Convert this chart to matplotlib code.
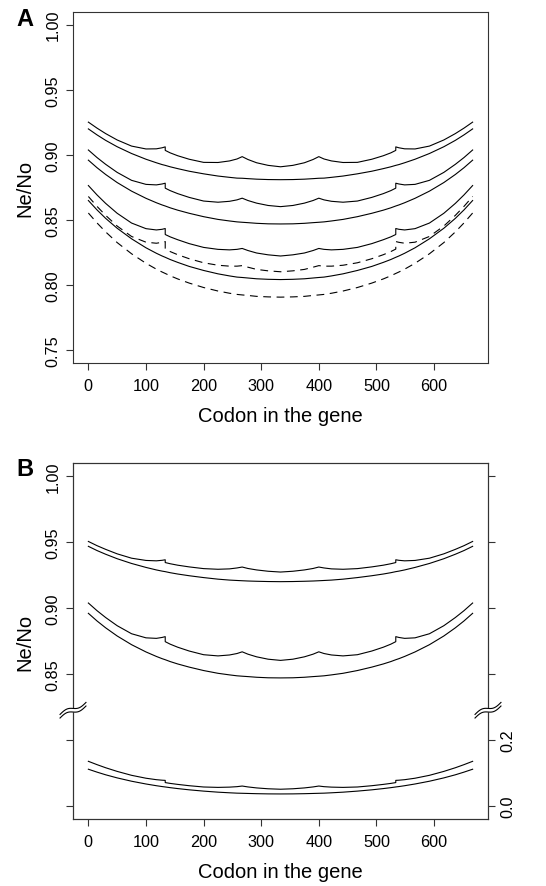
import numpy as np
import matplotlib
matplotlib.use("Agg")
import matplotlib.pyplot as plt

plt.rcParams['font.family'] = ['Liberation Sans', 'DejaVu Sans']

# ---------------- data ----------------
codon = [0, 15, 30, 50, 75, 100, 118, 128, 133.4, 133.4, 142, 155, 175, 200, 225, 245, 258, 267,
         277, 292, 312, 333.5, 355, 375, 390, 400, 409, 422, 442, 467, 492, 512, 525, 533.6,
         533.6, 539, 549, 567, 592, 617, 637, 652, 667]

# Panel A (Ne/No)
a_scal1 = [.9252, .9206, .9164, .9115, .9068, .9046, .9047, .9055, .9062, .9035, .9016, .8994, .8967, .8943, .8942, .8954, .8969, .8987, .8965, .8940, .8920, .8909,
           .8920, .8940, .8965, .8987, .8969, .8954, .8942, .8943, .8967, .8994, .9016, .9035, .9062, .9055, .9047, .9046, .9068, .9115, .9164, .9206, .9252]
a_smooth1 = [.920, .9154, .9112, .9063, .9011, .8967, .8940, .8926, .8920, .8920, .8909, .8895, .8875, .8855, .8838, .8828, .8822, .8821, .8818, .8814, .8811, .8810,
             .8811, .8814, .8818, .8821, .8822, .8828, .8838, .8855, .8875, .8895, .8909, .8920, .8920, .8926, .8940, .8967, .9011, .9063, .9112, .9154, .920]
a_scal2 = [.9038, .8980, .8928, .8866, .8805, .8774, .8770, .8777, .8783, .8745, .8726, .8703, .8674, .8646, .8637, .8644, .8655, .8668, .8650, .8630, .8612, .8603,
           .8612, .8630, .8650, .8668, .8655, .8644, .8637, .8646, .8674, .8703, .8726, .8745, .8783, .8777, .8770, .8774, .8805, .8866, .8928, .8980, .9038]
a_smooth2 = [.896, .8902, .8850, .8788, .8722, .8667, .8633, .8616, .8608, .8608, .8594, .8576, .8552, .8526, .8505, .8493, .8486, .8483, .8480, .8475, .8471, .8470,
             .8471, .8475, .8480, .8483, .8486, .8493, .8505, .8526, .8552, .8576, .8594, .8608, .8608, .8616, .8633, .8667, .8722, .8788, .8850, .8902, .896]
a_scal3 = [.8765, .8693, .8628, .8552, .8477, .8434, .8424, .8429, .8435, .8389, .8371, .8349, .8319, .8290, .8275, .8271, .8275, .8282, .8266, .8247, .8233, .8224,
           .8233, .8247, .8266, .8282, .8275, .8271, .8275, .8290, .8319, .8349, .8371, .8389, .8435, .8429, .8424, .8434, .8477, .8552, .8628, .8693, .8765]
a_smooth3 = [.865, .8578, .8513, .8437, .8356, .8287, .8245, .8224, .8214, .8214, .8197, .8175, .8144, .8113, .8087, .8071, .8062, .8059, .8055, .8049, .8045, .8043,
             .8045, .8049, .8055, .8059, .8062, .8071, .8087, .8113, .8144, .8175, .8197, .8214, .8214, .8224, .8245, .8287, .8356, .8437, .8513, .8578, .865]
a_dash_scal = [.8681, .8605, .8536, .8454, .8374, .8330, .8322, .8329, .8335, .8277, .8258, .8234, .8203, .8172, .8153, .8146, .8146, .8150, .8138, .8121, .8110, .8103,
               .8110, .8121, .8138, .8150, .8146, .8146, .8153, .8172, .8203, .8234, .8258, .8277, .8335, .8329, .8322, .8330, .8374, .8454, .8536, .8605, .8681]
a_dash_smooth = [.8554, .8478, .8409, .8327, .8241, .8168, .8123, .8101, .8090, .8090, .8072, .8048, .8016, .7982, .7955, .7938, .7929, .7925, .7921, .7914, .7910, .7908,
                 .7910, .7914, .7921, .7925, .7929, .7938, .7955, .7982, .8016, .8048, .8072, .8090, .8090, .8101, .8123, .8168, .8241, .8327, .8409, .8478, .8554]

# Panel B, upper part (left axis, Ne/No)
b_scal1 = [.9505, .9473, .9445, .9411, .9378, .9361, .9358, .9362, .9366, .9345, .9336, .9325, .9312, .9299, .9294, .9297, .9304, .9311, .9300, .9289, .9279, .9273,
           .9279, .9289, .9300, .9311, .9304, .9297, .9294, .9299, .9312, .9325, .9336, .9345, .9366, .9362, .9358, .9361, .9378, .9411, .9445, .9473, .9505]
b_smooth1 = [.9468, .9436, .9408, .9374, .9338, .9308, .9289, .9280, .9276, .9276, .9268, .9258, .9245, .9231, .9219, .9212, .9209, .9207, .9205, .9203, .9201, .9200,
             .9201, .9203, .9205, .9207, .9209, .9212, .9219, .9231, .9245, .9258, .9268, .9276, .9276, .9280, .9289, .9308, .9338, .9374, .9408, .9436, .9468]
b_scal2 = a_scal2
b_smooth2 = a_smooth2
# Panel B, lower part (right axis)
b_scal3 = [.1350, .1249, .1155, .1044, .0925, .0837, .0793, .0777, .0772, .0705, .0680, .0650, .0610, .0571, .0559, .0567, .0581, .0600, .0573, .0543, .0517, .0503,
           .0517, .0543, .0573, .0600, .0581, .0567, .0559, .0571, .0610, .0650, .0680, .0705, .0772, .0777, .0793, .0837, .0925, .1044, .1155, .1249, .1350]
b_smooth3 = [.111, .1022, .0941, .0847, .0746, .0662, .0610, .0584, .0572, .0572, .0551, .0523, .0485, .0446, .0414, .0395, .0384, .0380, .0375, .0368, .0362, .0360,
             .0362, .0368, .0375, .0380, .0384, .0395, .0414, .0446, .0485, .0523, .0551, .0572, .0572, .0584, .0610, .0662, .0746, .0847, .0941, .1022, .111]

xticks = [0, 100, 200, 300, 400, 500, 600]
a_yticks = [0.75, 0.80, 0.85, 0.90, 0.95, 1.00]
a_yticklabels = ['0.75', '0.80', '0.85', '0.90', '0.95', '1.00']
b_yticklabels = ['', '', '0.85', '0.90', '0.95', '1.00']
b_rticks = [0.0, 0.2, 0.4, 0.6, 0.8, 1.0]
b_rticklabels = ['0.0', '0.2', '', '', '', '']
xlabel = 'Codon in the gene'
ylabel = 'Ne/No'

# ---------------- figure ----------------
W, H = 546, 887
fig = plt.figure(figsize=(W / 100, H / 100), dpi=100)
axA = fig.add_axes([73 / W, 1 - 364.3 / H, 415 / W, 351.6 / H])
axB = fig.add_axes([73 / W, 1 - 820 / H, 415 / W, 356 / H])

XLIM = (-26.68, 693.68)
YLIM = (0.74, 1.01)
LC = 'black'
LW = 0.8
SC = '#333333'
TICKSZ = 11.7
LABSZ = 14.5


def style(ax, right=False):
    for s in ax.spines.values():
        s.set_color(SC)
        s.set_linewidth(0.8)
    ax.tick_params(direction='out', length=5, width=0.8, color=SC, labelsize=TICKSZ)
    ax.tick_params(axis='x', pad=5.5)
    ax.tick_params(axis='y', pad=4, labelrotation=90)
    for lab in ax.get_yticklabels():
        lab.set_va('center')


# ---- Panel A ----
axA.plot(codon, a_scal1, color=LC, lw=LW)
axA.plot(codon, a_smooth1, color=LC, lw=LW)
axA.plot(codon, a_scal2, color=LC, lw=LW)
axA.plot(codon, a_smooth2, color=LC, lw=LW)
axA.plot(codon, a_scal3, color=LC, lw=LW)
axA.plot(codon, a_smooth3, color=LC, lw=LW)
axA.plot(codon, a_dash_scal, color=LC, lw=LW, linestyle=(0, (7, 5)))
axA.plot(codon, a_dash_smooth, color=LC, lw=LW, linestyle=(0, (7, 5)))
axA.set_xlim(*XLIM)
axA.set_ylim(*YLIM)
axA.set_xticks(xticks)
axA.set_yticks(a_yticks)
axA.set_yticklabels(a_yticklabels)
style(axA)
axA.set_xlabel(xlabel, fontsize=LABSZ)
axA.set_ylabel(ylabel, fontsize=LABSZ)
axA.xaxis.set_label_coords(0.5, -52.7 / 351.6)
axA.xaxis.label.set_va('center')
axA.yaxis.set_label_coords(-48 / 415, 0.5)
axA.yaxis.label.set_va('center')

# ---- Panel B ----
axB.plot(codon, b_scal1, color=LC, lw=LW)
axB.plot(codon, b_smooth1, color=LC, lw=LW)
axB.plot(codon, b_scal2, color=LC, lw=LW)
axB.plot(codon, b_smooth2, color=LC, lw=LW)
axB.set_xlim(*XLIM)
axB.set_ylim(*YLIM)
axB.set_xticks(xticks)
axB.set_yticks(a_yticks)
axB.set_yticklabels(b_yticklabels)
style(axB)
axB.set_xlabel(xlabel, fontsize=LABSZ)
axB.set_ylabel(ylabel, fontsize=LABSZ)
axB.xaxis.set_label_coords(0.5, -53 / 356)
axB.xaxis.label.set_va('center')
axB.yaxis.set_label_coords(-48 / 415, 0.5)
axB.yaxis.label.set_va('center')

axR = axB.twinx()
axR.plot(codon, b_scal3, color=LC, lw=LW)
axR.plot(codon, b_smooth3, color=LC, lw=LW)
axR.set_xlim(*XLIM)
axR.set_ylim((YLIM[0] - 0.75) * 4, (YLIM[1] - 0.75) * 4)
axR.set_yticks(b_rticks)
axR.set_yticklabels(b_rticklabels)
style(axR)
for lab in axR.get_yticklabels():
    lab.set_va('center')

# axis-break marks on both sides of panel B
def draw_break(ax, xfrac, yfrac, wpx=416, hpx=356):
    t = np.linspace(-1, 1, 40)
    dx = 13 * t
    dy = 6 * t - 2.2 * np.sin(np.pi * t)
    xs = xfrac + dx / wpx
    ax.plot(xs, yfrac + dy / hpx, transform=ax.transAxes, color='white', lw=3.0,
            clip_on=False, zorder=10, solid_capstyle='butt')
    for off in (-1.8, 1.8):
        ax.plot(xs, yfrac + (dy + off) / hpx, transform=ax.transAxes, color=LC, lw=0.8,
                clip_on=False, zorder=11)

ybrk = (0.8225 - YLIM[0]) / (YLIM[1] - YLIM[0])
draw_break(axR, 0.0, ybrk)
draw_break(axR, 1.0, ybrk)

fig.text(25 / W, 1 - 19 / H, 'A', fontsize=17, fontweight='bold', ha='center', va='center')
fig.text(25 / W, 1 - 470 / H, 'B', fontsize=17, fontweight='bold', ha='center', va='center')

fig.savefig('out.png', dpi=100)
